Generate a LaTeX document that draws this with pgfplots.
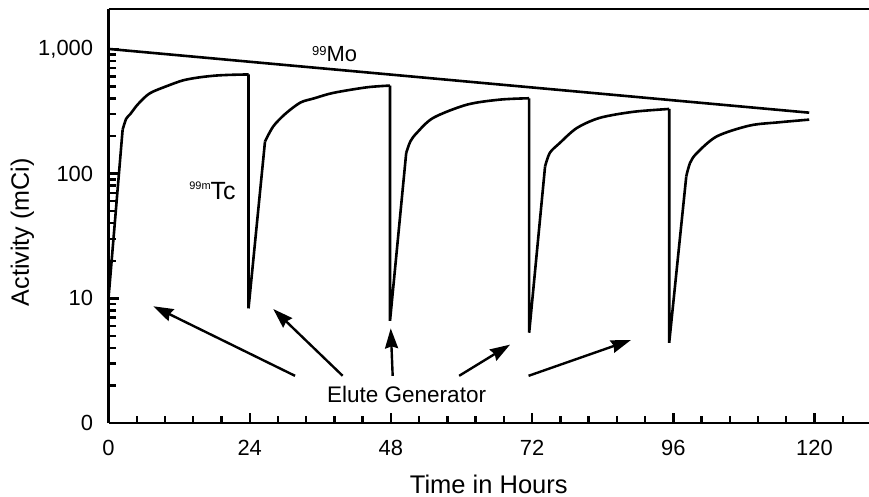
\documentclass[border=0pt]{standalone}
\usepackage{fontspec}
\setmainfont{Liberation Sans}
\usepackage{pgfplots}
\pgfplotsset{compat=1.18}
\usetikzlibrary{arrows.meta}
\pgfplotsset{curve/.style={black, solid, line width=1.3bp, mark=none}}

\begin{document}
\begin{tikzpicture}
\begin{axis}[
    scale only axis,
    width=380.25bp, height=207bp,
    ymode=log,
    xmin=0, xmax=129.26,
    ymin=1, ymax=2090,
    axis x line*=bottom,
    axis y line*=left,
    axis line style={line width=1.3bp},
    xtick={0,24,...,120},
    minor xtick={4.8,9.6,14.4,19.2,28.8,33.6,38.4,43.2,52.8,57.6,62.4,67.2,76.8,81.6,86.4,91.2,100.8,105.6,110.4,115.2,124.8},
    ytick={1,10,100,1000},
    yticklabels={0,10,100,{1,000}},
    minor ytick={2,3,4,5,6,7,8,9,20,30,40,50,60,70,80,90,200,300,400,500,600,700,800,900},
    every tick/.style={black, line width=1.2bp},
    major tick length=5bp,
    minor tick length=3.5bp,
    tick align=inside,
    /pgf/number format/assume math mode=true,
    tick label style={font=\fontsize{11}{13}\selectfont},
    xticklabel style={yshift=-4.9pt},
    yticklabel style={xshift=-4.2pt},
    xlabel={Time in Hours},
    ylabel={Activity (mCi)},
    every axis x label/.style={at={(axis description cs:0.5,-0.148)}, anchor=center, font=\fontsize{12.8}{15}\selectfont},
    every axis y label/.style={at={(axis description cs:-0.1131,0.461)}, rotate=90, anchor=center, font=\fontsize{12.6}{15}\selectfont},
    clip=false,
]
% top frame line (no right spine in the original)
\draw[line width=1.3bp] (rel axis cs:0,1) -- (rel axis cs:1,1);

% 99Mo parent
\addplot[curve] coordinates {(0,1000) (119.1,308)};

% 99mTc: steep ingrowth right after each elution
\addplot[curve] coordinates {(0,10) (2.4,225)};
\addplot[curve] coordinates {(23.8,624) (23.8,8.3) (26.6,181)};
\addplot[curve] coordinates {(47.85,508) (47.85,6.6) (50.6,146.5)};
\addplot[curve] coordinates {(71.5,402) (71.5,5.3) (74.2,114)};
\addplot[curve] coordinates {(95.3,330) (95.3,4.4) (98.2,95)};

% 99mTc: ingrowth curves
\addplot[curve, smooth] coordinates {(2.4,225) (3.0,275) (3.7,300) (5.0,360) (7.0,440) (10,505) (12.7,560) (15.5,592) (18.4,612) (21,620) (23.8,624)};
\addplot[curve, smooth] coordinates {(26.6,181) (28.0,239) (30,300) (32.6,371) (35,402) (38.2,444) (43.9,492) (47.85,508)};
\addplot[curve, smooth] coordinates {(50.6,146.5) (51.3,181) (52.4,212) (55.2,280) (60.9,357) (66.5,392) (71.5,402)};
\addplot[curve, smooth] coordinates {(74.2,114) (75.0,146.5) (76.7,176) (79.6,232) (83.5,280) (89.2,313) (95.3,330)};
\addplot[curve, smooth] coordinates {(98.2,95) (98.85,122) (100,146) (103.4,199) (109,243) (114,258) (119.1,271)};

% labels
\node[anchor=base west, inner sep=0, font=\fontsize{11}{13}\selectfont] at (axis cs:34.55,787)
    {\raisebox{3.3pt}{\fontsize{6.5}{8}\selectfont 99}Mo};
\node[anchor=base west, inner sep=0, font=\fontsize{12.5}{14}\selectfont] at (axis cs:13.68,61.9)
    {\raisebox{5pt}{\fontsize{5.5}{7}\selectfont 99m}Tc};
\node[anchor=base west, inner sep=0, font=\fontsize{11.3}{13}\selectfont] at (axis cs:37.09,1.466)
    {Elute Generator};

% elution arrows
\begin{scope}[-{Stealth[length=10bp,width=6.5bp,inset=1bp]}, line width=1.2bp]
\draw (axis cs:31.7,2.39) -- (axis cs:7.62,8.63);
\draw (axis cs:39.8,2.39) -- (axis cs:28.0,8.21);
\draw (axis cs:48.3,2.39) -- (axis cs:47.97,5.74);
\draw (axis cs:59.6,2.39) -- (axis cs:68.25,4.25);
\draw (axis cs:71.4,2.39) -- (axis cs:88.8,4.63);
\end{scope}
\end{axis}
\pgfresetboundingbox
\path (-54.25bp,-37bp) rectangle (380.25bp,211.5bp);
\end{tikzpicture}
\end{document}
